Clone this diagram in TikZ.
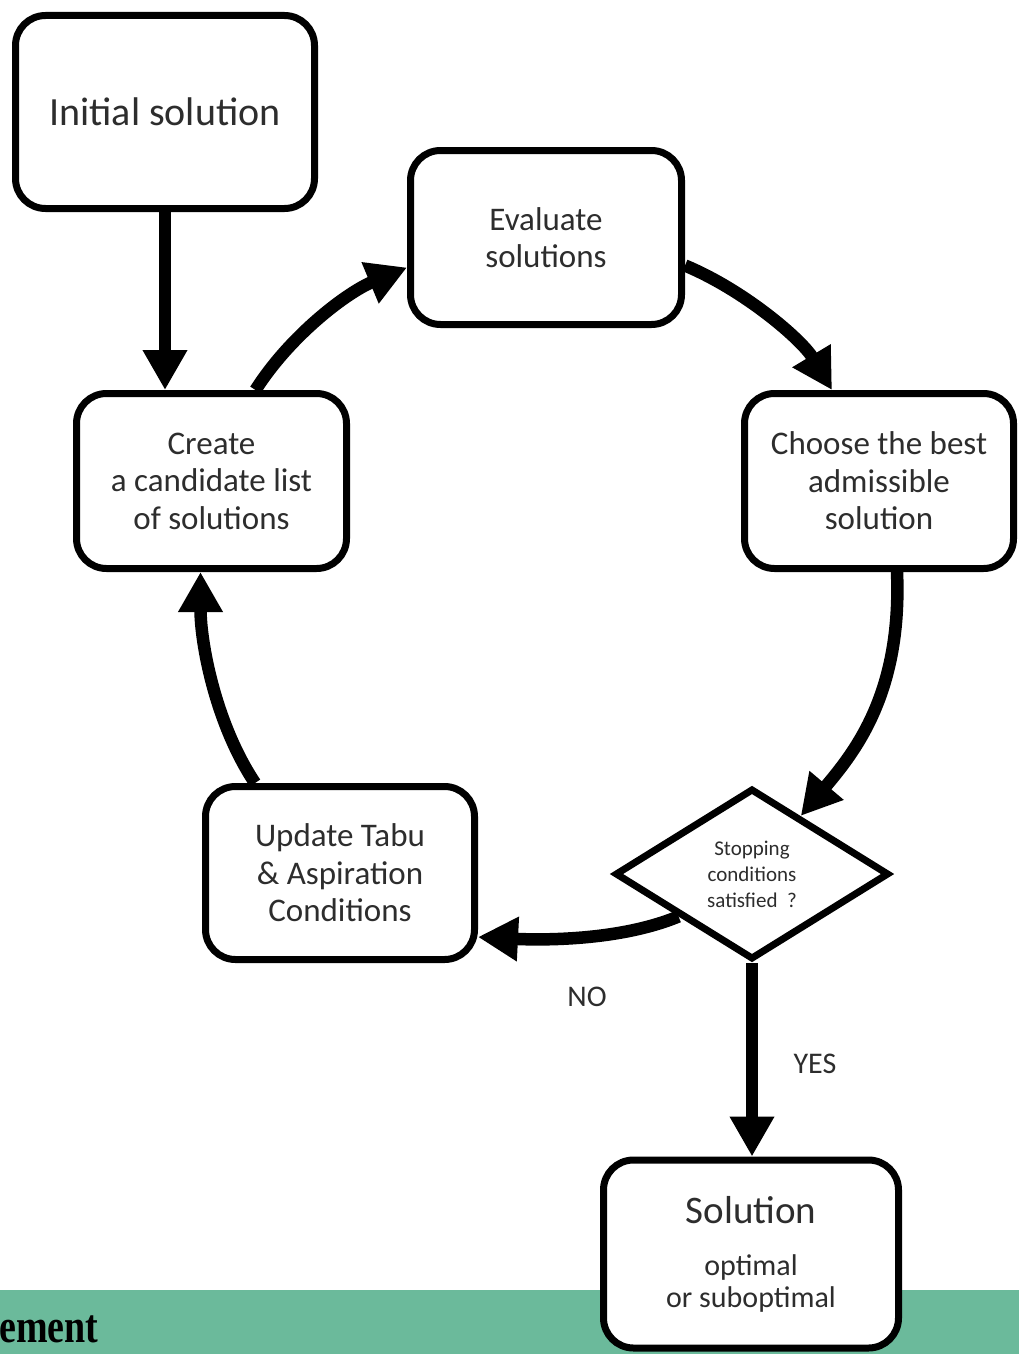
\documentclass[tikz,border=0pt]{standalone}
\usepackage{graphicx}
\usepackage{fontspec}
\setmainfont{Carlito}
\newfontfamily\serifbold{Liberation Serif}
\usetikzlibrary{shapes.geometric,arrows.meta}
\definecolor{txtgray}{RGB}{45,45,45}
\definecolor{stripgreen}{RGB}{107,186,155}
\begin{document}
\begin{tikzpicture}[x=1pt,y=-1pt,
  box/.style={draw=black, line width=7pt, rounded corners=30pt, fill=white, align=center, text=txtgray, inner sep=0pt, font=\fontsize{33}{37.5}\selectfont},
  conn/.style={line width=12.5pt, -{Triangle[length=40pt,width=42pt]}},
  lbl/.style={text=txtgray, inner sep=0pt, font=\fontsize{30}{36}\selectfont}]
\useasboundingbox (0,0) rectangle (1019,1354);
\fill[stripgreen] (0,1290) rectangle (1019,1354);
\node[anchor=base west, inner sep=0pt, font=\serifbold\bfseries\fontsize{38}{40}\selectfont] (emt) at (-1,1342) {\scalebox{1}[1.25]{ement}};

\node[box, minimum width=299pt, minimum height=193pt, font=\fontsize{40}{44}\selectfont] (init) at (165,112) {Initial solution};
\node[box, minimum width=271pt, minimum height=174pt] (eval) at (546,237.5) {Evaluate\\solutions};
\node[box, minimum width=270pt, minimum height=175pt] (create) at (211.5,481) {Create\\a candidate list\\of solutions};
\node[box, minimum width=269pt, minimum height=175pt] (choose) at (879,481) {Choose the best\\admissible\\solution};
\node[box, minimum width=269pt, minimum height=173pt] (update) at (340,873) {Update Tabu\\\& Aspiration\\Conditions};
\node[draw=black, line width=7pt, diamond, aspect=1.6, fill=white, inner sep=0pt, minimum width=274pt, minimum height=171pt, align=center, text=txtgray, font=\fontsize{21}{26}\selectfont] (dia) at (752,874) {Stopping\\conditions\\satisfied\ \ ?};
\node[box, minimum width=295pt, minimum height=188pt, font=\fontsize{30}{32}\selectfont] (sol) at (751,1254) {{\fontsize{39}{44}\selectfont Solution}\\[20pt]optimal\\or suboptimal};

\draw[conn] (init.south) -- (init.south |- create.north);
\draw[conn] ([xshift=44pt]create.north) .. controls +(35,-55) and +(-60,25) .. ([yshift=-30pt]eval.west);
\draw[conn] ([yshift=-28pt]eval.east) .. controls +(60,25) and +(-30,-50) .. ([xshift=-47pt]choose.north);
\draw[conn] ([xshift=18pt]choose.south) .. controls +(5,120) and +(55,-65) .. (dia.50);
\draw[conn] (dia.210) .. controls +(-60,25) and +(60,3) .. ([yshift=-64pt]update.east);
\draw[conn] ([xshift=-85pt]update.north) .. controls +(-40,-60) and +(0,70) .. ([xshift=-11pt]create.south);
\draw[conn] (dia.south) -- (dia.south |- sol.north);

\node[lbl] (no) at (587,997) {NO};
\node[lbl] (yes) at (815,1064) {YES};
\end{tikzpicture}
\end{document}
